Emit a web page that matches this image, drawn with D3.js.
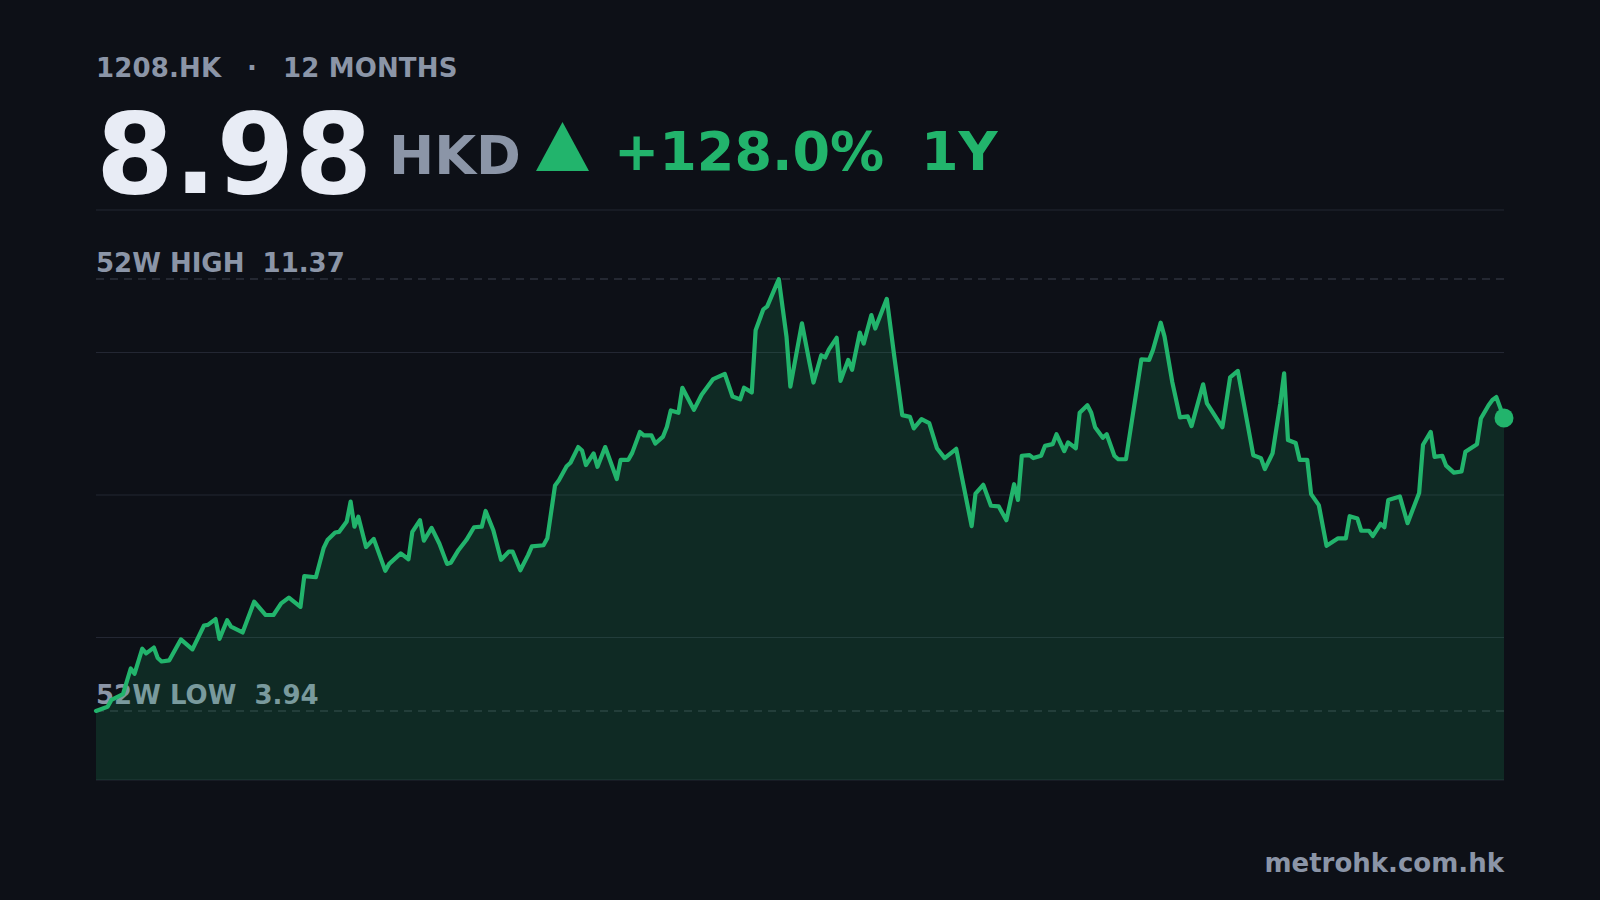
<!DOCTYPE html>
<html>
<head>
<meta charset="utf-8">
<script src="https://cdn.jsdelivr.net/npm/d3@7"></script>
<style>
  html, body { margin: 0; padding: 0; background: #0d1017; }
  svg text { font-family: "DejaVu Sans", sans-serif; font-weight: bold; white-space: pre; }
</style>
</head>
<body>
<svg id="chart" width="1600" height="900"></svg>
<script>
// ---- data ----
const ticker = "1208.HK";
const period = "12 MONTHS";
const currency = "HKD";
const changeLabel = "+128.0%";
const changeWindow = "1Y";
const source = "metrohk.com.hk";

// calendar-day offset within the 12-month window
const days = [0,3,4,7,9,10,12,13,15,16,17,19,22,25,28,29,31,32,34,35,38,41,44,46,48,50,53,54,57,59,60,62,63,65,66,67,68,70,72,75,76,79,81,82,84,85,87,89,91,92,94,96,98,100,101,103,105,107,108,110,112,113,116,117,119,120,122,123,125,126,127,129,130,132,135,136,138,139,141,142,144,145,147,148,149,151,152,155,157,160,161,163,165,167,168,170,171,173,174,177,179,180,183,185,186,188,189,190,192,193,195,196,198,199,201,202,205,207,209,211,212,214,216,218,220,223,227,228,230,232,234,236,238,239,240,242,243,245,246,248,249,251,252,254,255,257,258,259,261,262,264,265,267,271,273,274,276,277,279,281,283,284,287,288,292,294,296,300,302,303,305,307,308,309,311,312,314,315,317,319,322,324,325,327,328,330,331,333,334,335,338,340,343,344,346,347,349,350,352,354,355,358,359,361,362,363,365];
// closing price, HKD
const closes = [3.94,4.01,4.13,4.23,4.67,4.58,5.01,4.93,5.03,4.85,4.79,4.81,5.17,5.00,5.41,5.42,5.52,5.18,5.50,5.39,5.29,5.82,5.59,5.59,5.79,5.89,5.73,6.26,6.24,6.74,6.88,7.01,7.02,7.20,7.54,7.11,7.28,6.76,6.90,6.35,6.47,6.65,6.55,7.02,7.22,6.87,7.09,6.82,6.47,6.49,6.71,6.88,7.10,7.11,7.38,7.05,6.54,6.68,6.68,6.36,6.62,6.77,6.79,6.91,7.82,7.91,8.15,8.21,8.48,8.42,8.17,8.37,8.14,8.48,7.93,8.26,8.26,8.38,8.74,8.68,8.68,8.54,8.66,8.83,9.11,9.07,9.50,9.12,9.38,9.65,9.68,9.74,9.35,9.30,9.50,9.42,10.49,10.85,10.90,11.37,10.38,9.52,10.61,9.92,9.59,10.06,10.02,10.16,10.36,9.62,9.98,9.81,10.45,10.26,10.75,10.52,11.03,10.01,9.03,9.00,8.80,8.96,8.89,8.46,8.29,8.45,7.12,7.68,7.83,7.47,7.46,7.22,7.84,7.57,8.33,8.34,8.29,8.33,8.50,8.53,8.70,8.41,8.56,8.46,9.07,9.20,9.07,8.82,8.64,8.70,8.33,8.27,8.27,9.99,9.98,10.15,10.62,10.38,9.60,8.99,9.01,8.84,9.56,9.23,8.82,9.68,9.79,8.34,8.29,8.10,8.37,9.23,9.75,8.60,8.55,8.26,8.26,7.67,7.48,6.78,6.91,6.91,7.29,7.25,7.04,7.04,6.95,7.16,7.10,7.57,7.63,7.17,7.69,8.52,8.74,8.31,8.33,8.16,8.04,8.06,8.40,8.53,8.97,9.20,9.29,9.34,8.98];

(function () {
// ---- layout ----
const W = 1600, H = 900;
const plotLeft = 96, plotRight = 1504, plotTop = 210, plotBottom = 780;
const green = "#22b46c", gray = "#8b95a7", white = "#e8ecf5", bg = "#0d1017";

const svg = d3.select("#chart");
svg.append("rect").attr("width", W).attr("height", H).attr("fill", bg);

const lo = d3.min(closes), hi = d3.max(closes), last = closes[closes.length - 1];
const pad = (hi - lo) * 0.16;
const x = d3.scaleLinear().domain([0, d3.max(days)]).range([plotLeft, plotRight]);
const y = d3.scaleLinear().domain([lo - pad, hi + pad]).range([plotBottom, plotTop]);
const pts = days.map((d, i) => ({ d, v: closes[i] }));

// ---- header ----
svg.append("text").attr("x", 96).attr("y", 77).attr("font-size", 26).attr("letter-spacing", 0.15)
  .attr("fill", gray).text(ticker);
svg.append("text").attr("x", 252).attr("y", 77).attr("font-size", 26).attr("text-anchor", "middle")
  .attr("fill", gray).text("·");
svg.append("text").attr("x", 283).attr("y", 77).attr("font-size", 26).attr("letter-spacing", 0.15)
  .attr("fill", gray).text(period);

svg.append("text").attr("x", 96).attr("y", 193).attr("font-size", 112).attr("fill", white)
  .text(d3.format(".2f")(last));
svg.append("text").attr("x", 389).attr("y", 174).attr("font-size", 54).attr("fill", gray).text(currency);
svg.append("path")
  .attr("d", d3.line()([[536, 171], [562.5, 122], [589, 171]]) + "Z")
  .attr("fill", green);
svg.append("text").attr("x", 614).attr("y", 170).attr("font-size", 54).attr("fill", green).text(changeLabel);
svg.append("text").attr("x", 921).attr("y", 170).attr("font-size", 54).attr("fill", green).text(changeWindow);

// ---- grid ----
const gridStops = d3.range(0, 5).map(i => plotTop + (plotBottom - plotTop) * i / 4);
svg.append("g").selectAll("line").data(gridStops).join("line")
  .attr("x1", plotLeft).attr("x2", plotRight).attr("y1", d => d).attr("y2", d => d)
  .attr("stroke", "#232733").attr("stroke-width", 1.2);

// ---- 52W high / low reference lines + labels ----
const refs = [
  { label: "52W HIGH  " + hi.toFixed(2), v: hi },
  { label: "52W LOW  " + lo.toFixed(2), v: lo }
];
svg.append("g").selectAll("line").data(refs).join("line")
  .attr("x1", plotLeft).attr("x2", plotRight).attr("y1", d => y(d.v)).attr("y2", d => y(d.v))
  .attr("stroke", "#2c313c").attr("stroke-width", 1.5).attr("stroke-dasharray", "8,6");
svg.append("g").selectAll("text").data(refs).join("text")
  .attr("x", 96).attr("y", d => y(d.v) - 7).attr("font-size", 26).attr("letter-spacing", 0)
  .attr("fill", gray).text(d => d.label);

// ---- area + line ----
const area = d3.area().x(p => x(p.d)).y0(plotBottom).y1(p => y(p.v));
svg.append("path").datum(pts).attr("d", area).attr("fill", green).attr("fill-opacity", 0.16);

const line = d3.line().x(p => x(p.d)).y(p => y(p.v));
svg.append("path").datum(pts).attr("d", line).attr("fill", "none")
  .attr("stroke", green).attr("stroke-width", 4.2).attr("stroke-linejoin", "round").attr("stroke-linecap", "round");

svg.append("circle").attr("cx", x(days[days.length - 1])).attr("cy", y(last)).attr("r", 9.5).attr("fill", green);

// ---- source ----
svg.append("text").attr("x", plotRight).attr("y", 872).attr("font-size", 26).attr("text-anchor", "end")
  .attr("fill", gray).text(source);
})();
</script>
</body>
</html>
